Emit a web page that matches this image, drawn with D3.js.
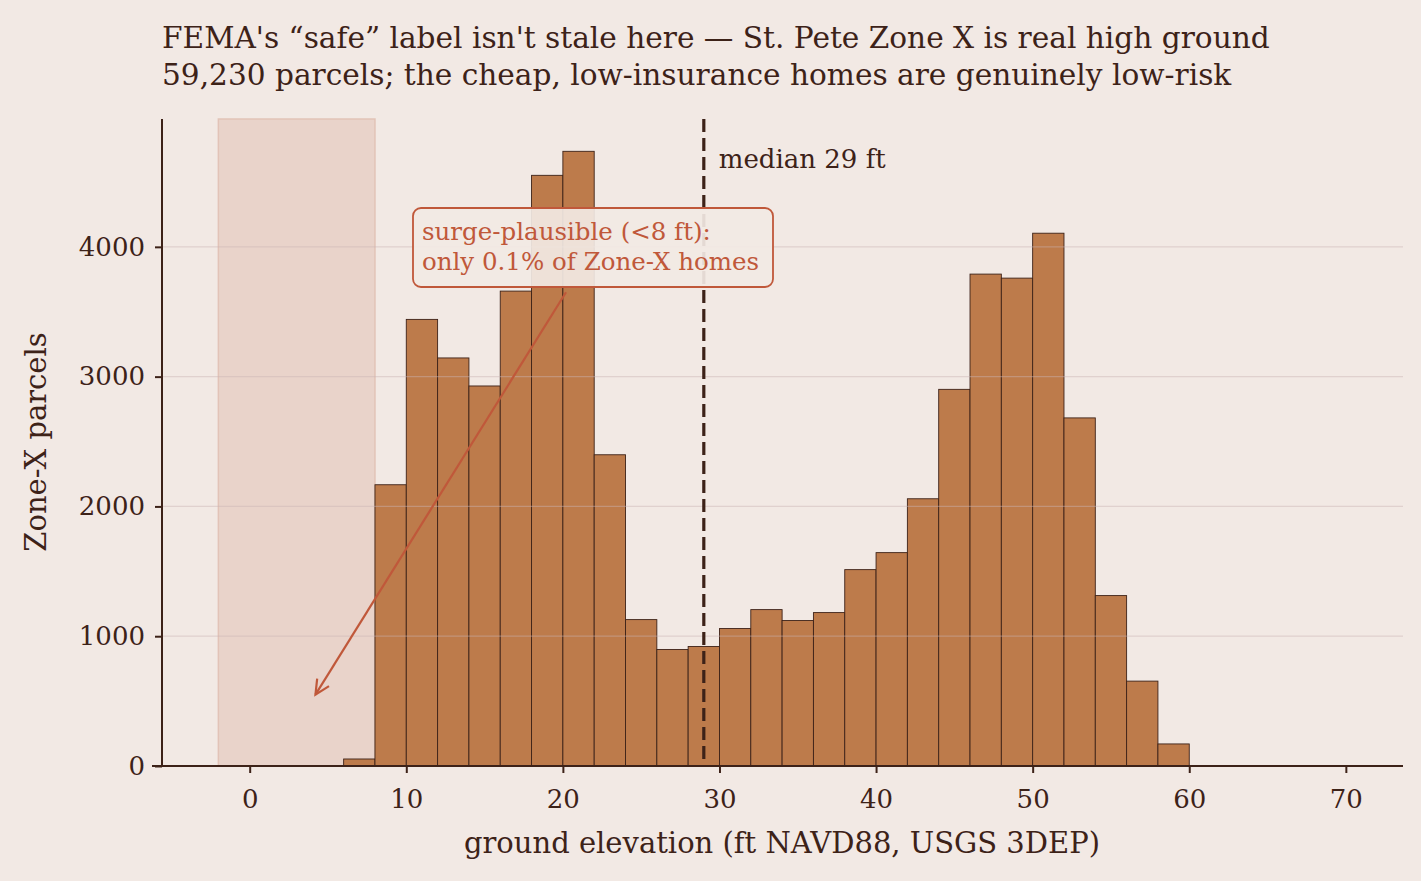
<!DOCTYPE html>
<html><head><meta charset="utf-8">
<script src="https://cdn.jsdelivr.net/npm/d3@7"></script>
<style>
html,body{margin:0;padding:0;background:#f2e9e4;}
svg{display:block;font-family:Georgia,"DejaVu Serif","Liberation Serif",serif;}
</style></head><body>
<svg id="c" width="1421" height="881"></svg>
<script>
// ---- data ----
const binEdgesStart = [6,8,10,12,14,16,18,20,22,24,26,28,30,32,34,36,38,40,42,44,46,48,50,52,54,56,58];
const binWidth = 2;
const counts = [54,2167,3441,3144,2928,3659,4551,4736,2398,1128,898,921,1059,1205,1121,1182,1513,1644,2059,2902,3790,3759,4105,2682,1313,654,170];
const xTicks = [0,10,20,30,40,50,60,70];
const yTicks = [0,1000,2000,3000,4000];
const medianFt = 29;
const surgeBand = [-2, 8];
const titleLines = ["FEMA's \u201csafe\u201d label isn't stale here \u2014 St. Pete Zone X is real high ground",
                    "59,230 parcels; the cheap, low-insurance homes are genuinely low-risk"];
const annotLines = ["surge-plausible (<8 ft):", "only 0.1% of Zone-X homes"];
const arrowFrom = [20.2, 3650], arrowTo = [4.2, 550];

const ink = "#3d2218", barFill = "#bd7b4b", accent = "#c0583a";
const svg = d3.select("#c");
const W = 1421, H = 881;
svg.append("rect").attr("width", W).attr("height", H).attr("fill", "#f2e9e4");

const x = d3.scaleLinear().domain([-5.6, 73.65]).range([162, 1403]);
const y = d3.scaleLinear().domain([0, 4985]).range([766, 119]);

// surge band
svg.append("rect")
  .attr("x", x(surgeBand[0])).attr("y", y(4985))
  .attr("width", x(surgeBand[1]) - x(surgeBand[0])).attr("height", y(0) - y(4985))
  .attr("fill", "#e9d3ca").attr("stroke", "#e2c3b7").attr("stroke-width", 1.5);

// bars
svg.append("g").selectAll("rect").data(counts).join("rect")
  .attr("x", (d,i) => x(binEdgesStart[i]))
  .attr("y", d => y(d))
  .attr("width", (d,i) => x(binEdgesStart[i] + binWidth) - x(binEdgesStart[i]))
  .attr("height", d => y(0) - y(d))
  .attr("fill", barFill).attr("stroke", ink).attr("stroke-width", 0.9);

// grid on top, faint
svg.append("g").selectAll("line").data(yTicks.filter(d => d > 0)).join("line")
  .attr("x1", 162).attr("x2", 1403)
  .attr("y1", d => y(d)).attr("y2", d => y(d))
  .attr("stroke", "#c9b3b3").attr("stroke-opacity", 0.45).attr("stroke-width", 1.3);

// median line
svg.append("line")
  .attr("x1", x(medianFt)).attr("x2", x(medianFt))
  .attr("y1", y(4985)).attr("y2", y(0))
  .attr("stroke", ink).attr("stroke-width", 3.2).attr("stroke-dasharray", "13,6");
svg.append("text").attr("x", x(medianFt) + 15).attr("y", 168)
  .attr("fill", ink).attr("font-size", 26).text(`median ${medianFt} ft`);

// axes
const xAxis = d3.axisBottom(x).tickValues(xTicks).tickFormat(d3.format("d")).tickSize(7).tickPadding(17).tickSizeOuter(0);
const gx = svg.append("g").attr("transform", `translate(0,${y(0)})`).call(xAxis)
  .attr("font-family", null).attr("font-size", null);
gx.select(".domain").remove();
gx.selectAll(".tick line").attr("stroke", ink).attr("stroke-width", 2);
gx.selectAll(".tick text").attr("fill", ink).attr("font-size", 26);
svg.append("line").attr("x1", 152).attr("x2", 1403).attr("y1", y(0)).attr("y2", y(0))
  .attr("stroke", ink).attr("stroke-width", 2);

const yAxis = d3.axisLeft(y).tickValues(yTicks).tickFormat(d3.format("d")).tickSize(7).tickPadding(10).tickSizeOuter(0);
const gy = svg.append("g").attr("transform", `translate(162,0)`).call(yAxis)
  .attr("font-family", null).attr("font-size", null);
gy.select(".domain").remove();
gy.selectAll(".tick line").attr("stroke", ink).attr("stroke-width", 2);
gy.selectAll(".tick text").attr("fill", ink).attr("font-size", 26);
svg.append("line").attr("x1", 162).attr("x2", 162).attr("y1", 119).attr("y2", y(0))
  .attr("stroke", ink).attr("stroke-width", 2);

// axis labels
svg.append("text").attr("x", 782).attr("y", 853).attr("text-anchor", "middle")
  .attr("fill", ink).attr("font-size", 29).text("ground elevation (ft NAVD88, USGS 3DEP)");
svg.append("text").attr("transform", "translate(46,442) rotate(-90)").attr("text-anchor", "middle")
  .attr("fill", ink).attr("font-size", 29).text("Zone-X parcels");

// title
svg.append("g").selectAll("text").data(titleLines).join("text")
  .attr("x", 162).attr("y", (d,i) => 48 + i * 37)
  .attr("fill", ink).attr("font-size", 29.6).text(d => d);

// annotation arrow
const ax1 = x(arrowFrom[0]), ay1 = y(arrowFrom[1]), ax2 = x(arrowTo[0]), ay2 = y(arrowTo[1]);
svg.append("line").attr("x1", ax1).attr("y1", ay1).attr("x2", ax2).attr("y2", ay2)
  .attr("stroke", accent).attr("stroke-width", 2.2);
const ang = Math.atan2(ay2 - ay1, ax2 - ax1);
const hl = 16, ha = 0.45;
const head = [[ax2 - hl*Math.cos(ang - ha), ay2 - hl*Math.sin(ang - ha)], [ax2, ay2], [ax2 - hl*Math.cos(ang + ha), ay2 - hl*Math.sin(ang + ha)]];
svg.append("path").attr("d", d3.line()(head)).attr("fill", "none")
  .attr("stroke", accent).attr("stroke-width", 2.2);

// annotation box
svg.append("rect").attr("x", 413).attr("y", 208).attr("width", 360).attr("height", 79).attr("rx", 8)
  .attr("fill", "#f2e9e4").attr("fill-opacity", 0.92).attr("stroke", accent).attr("stroke-width", 1.8);
svg.append("g").selectAll("text").data(annotLines).join("text")
  .attr("x", 422).attr("y", (d,i) => 240 + i * 30)
  .attr("fill", accent).attr("font-size", 24.5).text(d => d);
</script>
</body></html>
